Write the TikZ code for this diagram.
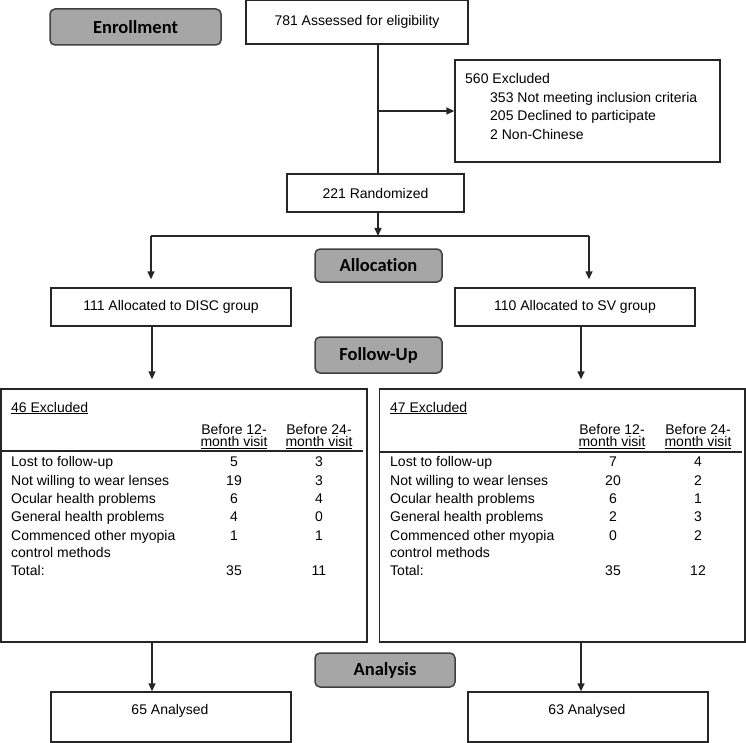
\documentclass[tikz,border=0pt]{standalone}
\usepackage{fontspec}
\setmainfont{Liberation Sans}
\newfontfamily\stagefont{Carlito}[Ligatures=NoCommon]
\usetikzlibrary{arrows.meta}
\tikzset{
	box/.style={draw=black!85, line width=1.4pt, fill=white, inner sep=0pt, font=\fontsize{14}{17}\selectfont},
	stage/.style={draw=black!75, line width=1.5pt, fill=black!35, rounded corners=5pt, inner sep=0pt, font=\stagefont\bfseries\fontsize{18.5}{20}\selectfont},
	txt/.style={inner sep=0pt, font=\fontsize{14}{17}\selectfont},
	link/.style={line width=1.4pt, draw=black!85},
	arr/.style={link, -{Triangle[length=8pt,width=7pt]}},
	rule/.style={line width=2pt, draw=black!85}
}
\def\exclrow[#1](#2,#3)#4#5#6{%
	\node[txt, anchor=base west] (#1a) at (#2,#3) {#4};
	\node[txt, anchor=base] (#1b) at (#2+223,#3) {#5};
	\node[txt, anchor=base] (#1c) at (#2+308,#3) {#6};
}

\begin{document}
\begin{tikzpicture}[x=1pt,y=-1pt]
			%%%%% START %%%%%
			\useasboundingbox (0,0) rectangle (746,743);
			
			\coordinate (split) at (378,236);
			\coordinate (splitL) at (151,236);
			\coordinate (splitR) at (589,236);
			\coordinate (colL) at (152,0);
			\coordinate (colR) at (581,0);
			
			\node[stage, minimum width=171, minimum height=36] (enroll) at (135.5,27) {Enrollment};
			\node[box, minimum width=222, minimum height=44] (assess) at (357,22) {781 Assessed for eligibility};
			
			\node[box, minimum width=265, minimum height=102] (excl) at (587.5,111) {};
			\node[txt, anchor=base west] (exclA) at (465,84) {560 Excluded};
			\node[txt, anchor=base west] (exclB) at (490,102.5) {353 Not meeting inclusion criteria};
			\node[txt, anchor=base west] (exclC) at (490,121) {205 Declined to participate};
			\node[txt, anchor=base west] (exclD) at (490,140) {2 Non-Chinese};
			
			\node[box, minimum width=177, minimum height=38] (rand) at (375.5,193) {221 Randomized};
			
			\node[stage, minimum width=127, minimum height=33] (alloc) at (378.5,265.5) {Allocation};
			\node[box, minimum width=240, minimum height=38] (disc) at (171,307) {111 Allocated to DISC group};
			\node[box, minimum width=240, minimum height=38] (sv) at (575,307) {110 Allocated to SV group};
			
			\node[stage, minimum width=127, minimum height=36] (follow) at (378.5,355) {Follow-Up};
			
			% left table
			\node[box, minimum width=366, minimum height=253] (tabL) at (184,515.5) {};
			\node[txt, anchor=base west] (hdrL) at (11,412) {\underline{46 Excluded}};
			\node[txt, anchor=base] (hdrLa) at (234,434) {Before 12-};
			\node[txt, anchor=base] (hdrLb) at (234,446.5) {\underline{month visit}};
			\node[txt, anchor=base] (hdrLc) at (319,434) {Before 24-};
			\node[txt, anchor=base] (hdrLd) at (319,446.5) {\underline{month visit}};
			\draw[rule] (1,451) -- (363,451);
			\exclrow[L1](11,466.7){Lost to follow-up}{5}{3}
			\exclrow[L2](11,485){Not willing to wear lenses}{19}{3}
			\exclrow[L3](11,503.3){Ocular health problems}{6}{4}
			\exclrow[L4](11,521.7){General health problems}{4}{0}
			\exclrow[L5](11,540){Commenced other myopia}{1}{1}
			\node[txt, anchor=base west] (L6a) at (11,557.3) {control methods};
			\exclrow[L7](11,575){Total:}{35}{11}
			
			% right table
			\node[box, minimum width=365.5, minimum height=253] (tabR) at (562.25,515.5) {};
			\node[txt, anchor=base west] (hdrR) at (390,412) {\underline{47 Excluded}};
			\node[txt, anchor=base] (hdrRa) at (612,434) {Before 12-};
			\node[txt, anchor=base] (hdrRb) at (612,446.5) {\underline{month visit}};
			\node[txt, anchor=base] (hdrRc) at (698,434) {Before 24-};
			\node[txt, anchor=base] (hdrRd) at (698,446.5) {\underline{month visit}};
			\draw[rule] (380,452) -- (742,452);
			\exclrow[R1](390,466.7){Lost to follow-up}{7}{4}
			\exclrow[R2](390,485){Not willing to wear lenses}{20}{2}
			\exclrow[R3](390,503.3){Ocular health problems}{6}{1}
			\exclrow[R4](390,521.7){General health problems}{2}{3}
			\exclrow[R5](390,540){Commenced other myopia}{0}{2}
			\node[txt, anchor=base west] (R6a) at (390,557.3) {control methods};
			\exclrow[R7](390,575){Total:}{35}{12}
			
			\node[stage, minimum width=140, minimum height=34] (analysis) at (385,670) {Analysis};
			\node[box, minimum width=240, minimum height=50] (anaL) at (171,717) {};
			\node[txt] (anaLtxt) at (170,711) {65 Analysed};
			\node[box, minimum width=240, minimum height=50] (anaR) at (588,717) {};
			\node[txt] (anaRtxt) at (587,711) {63 Analysed};
			
			% connectors
			\draw[link] (assess.south -| split) -- (rand.north -| split);
			\draw[arr] (excl.west -| split) -- (excl.west);
			\draw[arr] (rand.south -| split) -- (split);
			\draw[link] (splitL) -- (splitR);
			\draw[arr, shorten >=8pt] (splitL) -- (disc.north -| splitL);
			\draw[arr, shorten >=8pt] (splitR) -- (sv.north -| splitR);
			\draw[arr, shorten >=9pt] (disc.south -| colL) -- (tabL.north -| colL);
			\draw[arr, shorten >=9pt] (sv.south -| colR) -- (tabR.north -| colR);
			\draw[arr] (tabL.south -| colL) -- (anaL.north -| colL);
			\draw[arr] (tabR.south -| colR) -- (anaR.north -| colR);
			
			%%%%% END %%%%%
\end{tikzpicture}
\end{document}
